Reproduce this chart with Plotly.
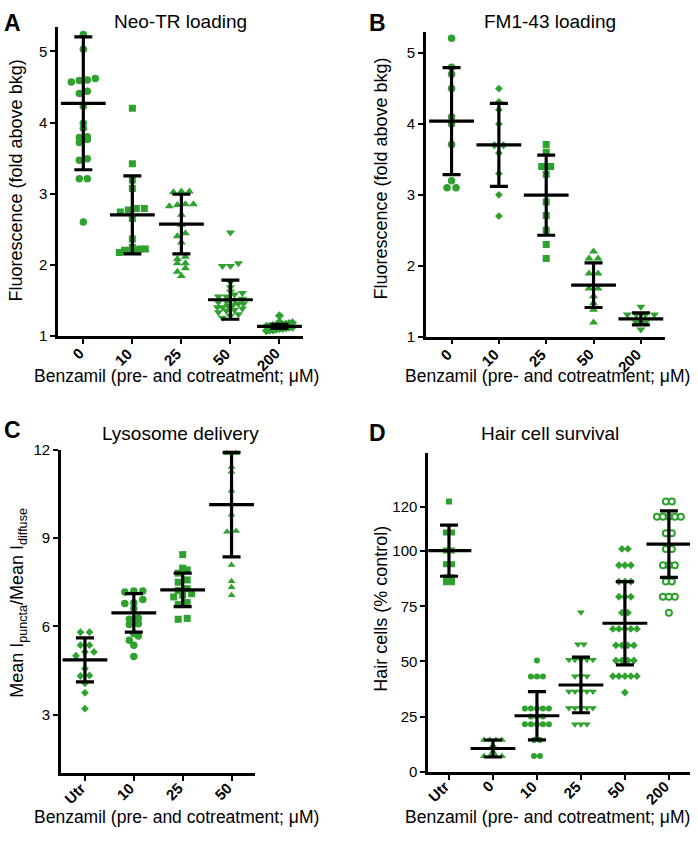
import plotly.graph_objects as go

# ---------------- DATA ----------------
# Panel A: Neo-TR loading
A_CATS = ["0", "10", "25", "50", "200"]
A_G0 = [5.24, 5.03, 4.62, 4.60, 4.57, 4.59, 4.41, 4.44, 4.23, 3.99, 3.92, 3.80, 3.79, 3.76, 3.72, 3.49, 3.47, 3.21, 3.21, 2.60]
A_G10 = [4.20, 3.42, 3.19, 3.07, 2.79, 2.74, 2.77, 2.79, 2.65, 2.36, 2.20, 2.21, 2.22, 2.22, 2.24, 2.20, 2.17]
A_G25 = [3.03, 3.02, 3.03, 2.85, 2.84, 2.85, 2.82, 2.70, 2.56, 2.40, 2.44, 2.31, 2.11, 2.08, 2.02, 2.02, 1.95, 1.90, 1.84]
A_G50 = [2.45, 2.02, 1.98, 1.98, 1.75, 1.68, 1.62, 1.60, 1.58, 1.55, 1.55, 1.52, 1.50, 1.48, 1.47, 1.45, 1.45,
         1.43, 1.42, 1.40, 1.40, 1.38, 1.36, 1.35, 1.33, 1.30, 1.28, 1.25]
A_G200 = [1.28, 1.19, 1.18, 1.17, 1.16, 1.15, 1.15, 1.14, 1.14, 1.13, 1.13, 1.12, 1.12, 1.11, 1.10, 1.10,
          1.09, 1.08, 1.08, 1.07]
A_MEAN = [4.27, 2.70, 2.57, 1.505, 1.13]
A_SD = [0.935, 0.55, 0.42, 0.275, 0.03]

# Panel B: FM1-43 loading
B_CATS = ["0", "10", "25", "50", "200"]
B_G0 = [5.21, 4.80, 4.70, 4.50, 4.10, 4.00, 3.71, 3.20, 3.10, 3.10]
B_G10 = [4.50, 4.31, 4.20, 4.00, 3.70, 3.59, 3.70, 3.30, 3.00, 2.70]
B_G25 = [3.71, 3.60, 3.40, 3.40, 3.29, 2.90, 2.71, 2.50, 2.30, 2.10]
B_G50 = [2.20, 2.10, 2.10, 1.89, 1.89, 1.68, 1.68, 1.57, 1.47, 1.38, 1.20]
B_G200 = [1.42, 1.31, 1.31, 1.31, 1.31, 1.20, 1.20, 1.10]
B_MEAN = [4.04, 3.705, 2.995, 1.725, 1.25]
B_SD = [0.755, 0.585, 0.565, 0.315, 0.085]

# Panel C: Lysosome delivery
C_CATS = ["Utr", "10", "25", "50"]
C_GUTR = [5.80, 5.80, 5.36, 5.36, 5.13, 5.13, 5.00, 4.56, 4.33, 4.31, 4.06, 3.74, 3.20]
C_G10 = [7.20, 7.20, 7.17, 6.78, 6.80, 6.91, 6.61, 6.28, 6.09, 6.06, 6.24, 5.76, 5.67, 5.53, 5.36, 4.97]
C_G25 = [8.44, 7.92, 7.98, 7.81, 7.50, 7.58, 7.11, 7.00, 7.06, 6.81, 6.74, 6.24, 6.27, 7.22, 7.28]
C_G50 = [11.89, 11.89, 11.42, 11.26, 10.61, 10.17, 9.80, 9.22, 9.24, 8.09, 7.53, 7.33, 7.06]
C_MEAN = [4.86, 6.455, 7.24, 10.14]
C_SD = [0.75, 0.655, 0.57, 1.78]

# Panel D: Hair cell survival
D_CATS = ["Utr", "0", "10", "25", "50", "200"]
D_GUTR = [122.5, 108.4, 108.4, 100.3, 100.3, 94.0, 94.0, 88.1, 88.1, 85.9, 85.9]
D_G0 = [14.4, 14.4, 14.4, 14.4, 12.0, 10.5, 9.0, 7.0, 7.0, 7.0, 7.0]
D_G10 = [50.4, 43.2, 43.2, 43.2, 28.6, 28.6, 28.6, 28.6, 28.6, 25.0, 25.0, 25.0,
         21.5, 21.5, 21.5, 21.5, 21.5, 14.4, 14.4, 7.1, 7.1]
D_G25 = [72.3, 57.8, 57.8, 50.7, 50.7, 50.7, 50.7, 50.7, 43.3, 43.3, 43.3, 36.3, 36.3, 36.3, 36.3, 36.3,
         28.9, 28.9, 28.9, 28.9, 28.9, 21.5, 21.5, 21.5]
D_G50 = [101.0, 101.0, 93.6, 93.6, 93.6, 86.2, 86.2, 86.2, 79.3, 79.3, 79.3, 72.1, 72.1,
         64.7, 64.7, 64.7, 64.7, 64.7, 57.3, 57.3, 57.3, 57.3, 50.4, 50.4, 50.4, 50.4,
         43.3, 43.3, 43.3, 43.3, 43.3, 35.9]
D_G200 = [122.5, 122.5, 115.6, 115.6, 115.6, 115.6, 115.6, 108.1, 108.1, 101.0, 101.0,
          93.6, 93.6, 93.6, 86.2, 86.2, 79.3, 79.3, 79.3, 72.1]
D_MEAN = [100.2, 10.5, 25.35, 39.3, 67.3, 103.15]
D_SD = [11.6, 3.85, 10.95, 12.6, 18.9, 15.05]

# ---------------- STYLE ----------------
W, H = 698, 846
GREEN = "#2ea12e"
FONT = "Liberation Sans, Arial, sans-serif"


def swarm(values, px_per_unit, px_per_cat, spacing, max_span):
    """Prism-like row scatter: points with nearly equal values share a row."""
    order = sorted(range(len(values)), key=lambda i: values[i])
    rows = []
    for i in order:
        if rows and (values[i] - values[rows[-1][0]]) * px_per_unit < spacing * 0.5:
            rows[-1].append(i)
        else:
            rows.append([i])
    offs = [0.0] * len(values)
    for row in rows:
        n = len(row)
        sp = spacing if (n - 1) * spacing <= max_span else max_span / (n - 1)
        for k, i in enumerate(row):
            offs[i] = (k - (n - 1) / 2) * sp / px_per_cat
    return offs


fig = go.Figure()

panels = [
    dict(ax="", groups=[A_G0, A_G10, A_G25, A_G50, A_G200], cats=A_CATS, mean=A_MEAN, sd=A_SD,
         symbols=["circle", "square", "triangle-up", "triangle-down", "diamond"],
         sizes=[7.5, 7, 8, 8, 7], ppu=72.4, ppc=49.0, sp=8, span=26, lab_gap=8,
         xdom=[58.3, 303], ydom=[18, 333.3], yrange=[1, 5.35], ytick=[1, 2, 3, 4, 5], xr=[-0.51, 4.48]),
    dict(ax="2", groups=[B_G0, B_G10, B_G25, B_G50, B_G200], cats=B_CATS, mean=B_MEAN, sd=B_SD,
         symbols=["circle", "diamond", "square", "triangle-up", "triangle-down"],
         sizes=[7.5, 6, 7, 8, 8], ppu=72.3, ppc=47.3, sp=9, span=27, lab_gap=8,
         xdom=[426, 665], ydom=[23.3, 334.3], yrange=[1, 5.3], ytick=[1, 2, 3, 4, 5], xr=[-0.54, 4.51]),
    dict(ax="3", groups=[C_GUTR, C_G10, C_G25, C_G50], cats=C_CATS, mean=C_MEAN, sd=C_SD,
         symbols=["diamond", "circle", "square", "triangle-up"],
         sizes=[6, 7.5, 7, 7], ppu=30.0, ppc=48.9, sp=9, span=27, lab_gap=5,
         xdom=[61, 255], ydom=[450, 780], yrange=[1, 12], ytick=[3, 6, 9, 12], xr=[-0.49, 3.48]),
    dict(ax="4", groups=[D_GUTR, D_G0, D_G10, D_G25, D_G50, D_G200], cats=D_CATS, mean=D_MEAN, sd=D_SD,
         symbols=["square", "triangle-up", "circle", "triangle-down", "diamond", "circle-open"],
         sizes=[6, 7, 6, 7, 6, 6], ppu=2.25, ppc=44.0, sp=6, span=24, lab_gap=5,
         xdom=[428.3, 690], ydom=[453.3, 778.3], yrange=[0, 144.4], ytick=[0, 25, 50, 75, 100, 120],
         xr=[-0.47, 5.48]),
]

layout_axes = {}
annotations = []
for p in panels:
    xa, ya = "x" + p["ax"], "y" + p["ax"]
    for gi, vals in enumerate(p["groups"]):
        offs = swarm(vals, p["ppu"], p["ppc"], p["sp"], p["span"])
        xs = [gi + o for o in offs]
        sym = p["symbols"][gi]
        fig.add_trace(go.Scatter(
            x=xs, y=vals, mode="markers", xaxis=xa, yaxis=ya, showlegend=False,
            marker=dict(symbol=sym, size=p["sizes"][gi],
                        color=GREEN,
                        line=dict(width=2 if "open" in sym else 0, color=GREEN)),
            hoverinfo="skip"))
    fig.add_trace(go.Scatter(
        x=list(range(len(p["cats"]))), y=p["mean"], mode="markers", xaxis=xa, yaxis=ya,
        showlegend=False,
        marker=dict(symbol="line-ew", size=32, line=dict(width=3.2, color="black"), color="black"),
        error_y=dict(type="data", array=p["sd"], visible=True, color="black", thickness=3.2, width=9),
        hoverinfo="skip"))
    key = p["ax"] if p["ax"] else ""
    layout_axes["xaxis" + key] = dict(
        domain=[p["xdom"][0] / W, p["xdom"][1] / W], anchor=ya, range=p["xr"],
        tickmode="array", tickvals=list(range(len(p["cats"]))), showticklabels=False,
        showline=True, linecolor="black", linewidth=2.8, ticks="outside", ticklen=5, tickwidth=2,
        tickcolor="black", showgrid=False, zeroline=False, fixedrange=True)
    layout_axes["yaxis" + key] = dict(
        domain=[1 - p["ydom"][1] / H, 1 - p["ydom"][0] / H], anchor=xa, range=p["yrange"],
        tickmode="array", tickvals=p["ytick"], tickfont=dict(family=FONT, size=15, color="black"),
        showline=True, linecolor="black", linewidth=2.8, ticks="outside", ticklen=5, tickwidth=2,
        tickcolor="black", showgrid=False, zeroline=False, fixedrange=True)
    # rotated category labels, placed on the category positions of the x axis
    for ci, cat in enumerate(p["cats"]):
        annotations.append(dict(
            text=cat, x=ci + 5.0 / p["ppc"], xref=xa, y=1 - (p["ydom"][1] + p["lab_gap"]) / H,
            yref="paper", xanchor="right", yanchor="top", textangle=-45, showarrow=False,
            borderpad=0, font=dict(family=FONT, size=15, color="black", weight="bold")))


def ann(text, x, y, size, bold=False, angle=0):
    return dict(text=text, x=x / W, y=1 - y / H, xref="paper", yref="paper", showarrow=False,
                xanchor="center", yanchor="middle", textangle=angle,
                font=dict(family=FONT, size=size, color="black", weight="bold" if bold else "normal"))


XT = "Benzamil (pre- and cotreatment; μM)"
annotations += [
    ann("A", 12, 14, 23, True), ann("B", 377, 14, 23, True),
    ann("C", 12, 430, 23, True), ann("D", 377, 433, 23, True),
    ann("Neo-TR loading", 180, 13, 19), ann("FM1-43 loading", 550, 13, 19),
    ann("Lysosome delivery", 180, 433, 19), ann("Hair cell survival", 550, 433, 19),
    ann(XT, 176, 375, 17.5), ann(XT, 547, 375, 17.5),
    ann(XT, 176, 825, 17.5), ann(XT, 547, 825, 17.5),
    ann("Fluorescence (fold above bkg)", 16, 175, 18, angle=-90),
    ann("Fluorescence (fold above bkg)", 381, 173, 18, angle=-90),
    ann("Mean I<sub>puncta</sub>/Mean I<sub>diffuse</sub>", 19, 606, 18, angle=-90),
    ann("Hair cells (% control)", 381, 612, 18, angle=-90),
]

fig.update_layout(width=W, height=H, margin=dict(l=0, r=0, t=0, b=0),
                  paper_bgcolor="white", plot_bgcolor="white", annotations=annotations,
                  **layout_axes)

fig.write_html("out.html", config={"displayModeBar": False},
               post_script="document.body.style.margin='0';document.body.style.overflow='hidden';")
